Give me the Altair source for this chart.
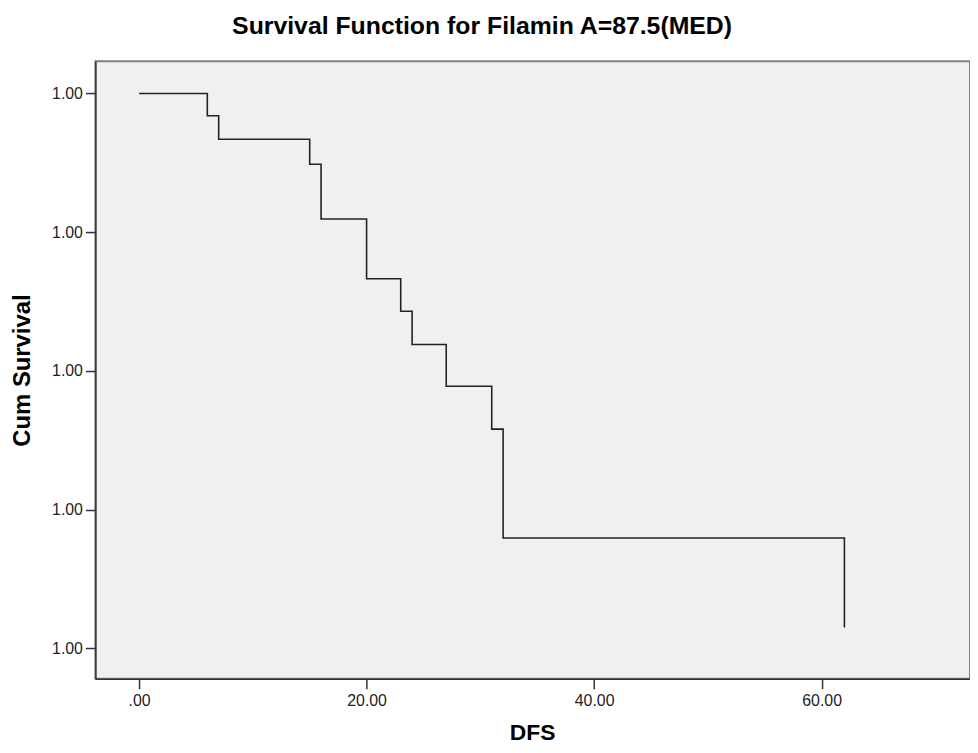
import altair as alt
import pandas as pd

# Kaplan-Meier step values
times = [0, 6, 7, 15, 16, 20, 23, 24, 27, 31, 32, 62]
survival = [1.0, 0.968, 0.934, 0.898, 0.819, 0.733, 0.686, 0.638, 0.578, 0.516, 0.359, 0.230]
x_ticks = [0, 20, 40, 60]
y_ticks = [0.2, 0.4, 0.6, 0.8, 1.0]
chart_title = "Survival Function for Filamin A=87.5(MED)"

df = pd.DataFrame({"DFS": times, "surv": survival})

FONT = "Liberation Sans"
AXIS_COL = "#333333"

x_axis = alt.Axis(
    values=x_ticks,
    labelExpr="datum.value == 0 ? '.00' : format(datum.value, '.2f')",
    title="DFS",
    grid=False,
    domainColor=AXIS_COL, domainWidth=1.5,
    tickColor=AXIS_COL, tickWidth=1.5, tickSize=10,
    labelFont=FONT, labelFontSize=16, labelColor="#222222", labelPadding=4,
    titleFont=FONT, titleFontSize=23, titleFontWeight="bold", titleColor="#000000",
    titleX=440, titleY=54, titleAlign="center", titleBaseline="middle",
)

y_axis = alt.Axis(
    values=y_ticks,
    labelExpr="'1.00'",
    title="Cum Survival",
    grid=False,
    domainColor=AXIS_COL, domainWidth=1.5,
    tickColor=AXIS_COL, tickWidth=1.5, tickSize=10,
    labelFont=FONT, labelFontSize=16, labelColor="#222222", labelPadding=3,
    titleFont=FONT, titleFontSize=24, titleFontWeight="bold", titleColor="#000000",
    titleX=-73, titleY=311, titleAngle=270, titleAlign="center", titleBaseline="middle",
)

chart = (
    alt.Chart(df)
    .mark_line(interpolate="step-after", color="#222222", strokeWidth=1.6)
    .encode(
        x=alt.X("DFS:Q", scale=alt.Scale(domain=[-3.84, 73.04], nice=False, zero=False), axis=x_axis),
        y=alt.Y("surv:Q", scale=alt.Scale(domain=[0.156, 1.0465], nice=False, zero=False), axis=y_axis),
    )
    .properties(
        width=881,
        height=622,
        title=alt.TitleParams(
            text=chart_title, font=FONT, fontSize=25, fontWeight="bold", color="#000000",
            anchor="middle", frame="group", baseline="alphabetic", offset=2, dx=-51,
        ),
        padding={"left": 88, "top": 51, "right": 0, "bottom": 64},
        autosize=alt.AutoSizeParams(type="none"),
        background="#ffffff",
    )
    .configure_view(fill="#F0F0F0", stroke="#808080", strokeWidth=2)
)

chart.save("out.html", embed_options={"renderer": "svg", "actions": False})
